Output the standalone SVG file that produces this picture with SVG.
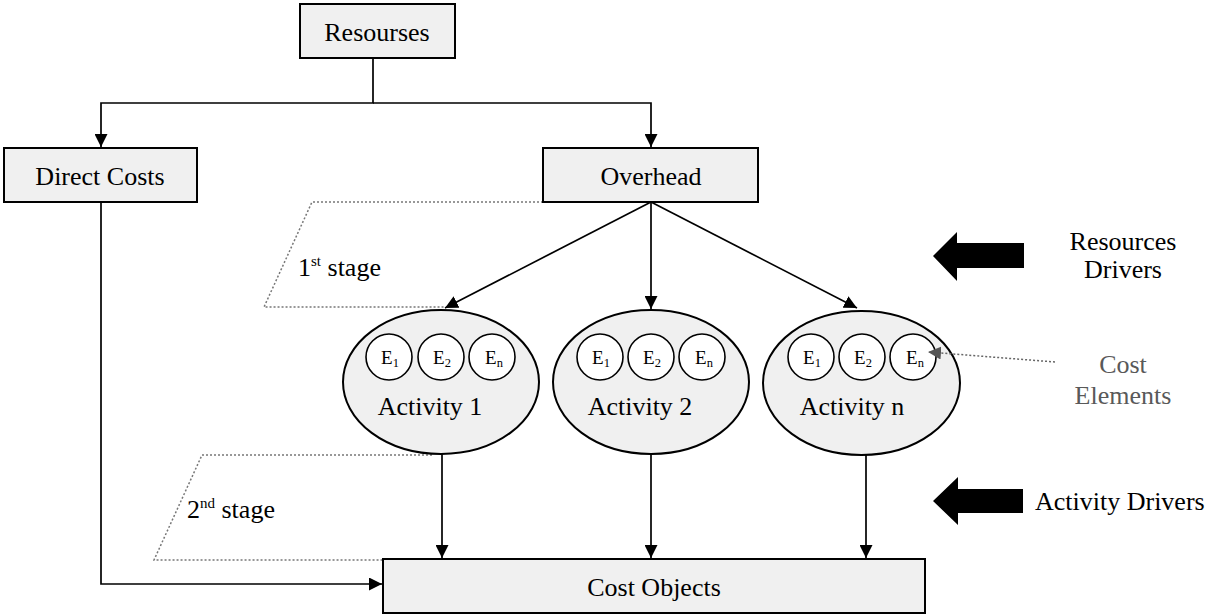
<svg xmlns="http://www.w3.org/2000/svg" width="1213" height="614" viewBox="0 0 1213 614">
<style>
text{font-family:"Liberation Serif","Times New Roman",serif;fill:#000}
.lbl{font-size:26px;text-anchor:middle}
.box{fill:#f0f0f0;stroke:#000;stroke-width:2}
.ell{fill:#f0f0f0;stroke:#000;stroke-width:2}
.cir{fill:#fff;stroke:#000;stroke-width:1.6}
.e{font-size:19px;text-anchor:middle}
.sub{font-size:12.5px}
.con{fill:none;stroke:#000;stroke-width:1.7}
.dot{fill:none;stroke:#777;stroke-width:1.5;stroke-dasharray:2 2}
.gray{fill:#595959}
</style>
<defs>
<marker id="ah" markerUnits="userSpaceOnUse" markerWidth="13" markerHeight="13" refX="13" refY="6.5" orient="auto" viewBox="0 0 13 13">
<path d="M0,0 L13,6.5 L0,13 z" fill="#000"/>
</marker>
<marker id="ahg" markerUnits="userSpaceOnUse" markerWidth="13" markerHeight="13" refX="13" refY="6.5" orient="auto" viewBox="0 0 13 13">
<path d="M0,0 L13,6.5 L0,13 z" fill="#555"/>
</marker>
</defs>

<g id="stages">
<path class="dot" d="M543,202 H312 L264,307 H445"/>
<path class="dot" d="M432,455 H202 L154,560 H383"/>
<text x="298" y="276" font-size="26">1<tspan font-size="15" dy="-10">st</tspan><tspan dy="10"> stage</tspan></text>
<text x="187" y="518" font-size="26">2<tspan font-size="15" dy="-10">nd</tspan><tspan dy="10"> stage</tspan></text>
</g>

<g id="resourses">
<rect class="box" x="300" y="4" width="155" height="54"/>
<text class="lbl" x="377" y="41">Resourses</text>
</g>
<g id="direct-costs">
<rect class="box" x="4" y="148" width="193" height="54"/>
<text class="lbl" x="100" y="185">Direct Costs</text>
</g>
<g id="overhead">
<rect class="box" x="543" y="148" width="215" height="54"/>
<text class="lbl" x="651" y="185">Overhead</text>
</g>

<g id="activity-1">
<ellipse class="ell" cx="441" cy="382" rx="98" ry="72"/>
<circle class="cir" cx="389" cy="357" r="23"/>
<circle class="cir" cx="441" cy="357" r="23"/>
<circle class="cir" cx="492" cy="357" r="23"/>
<text class="e" x="390" y="364">E<tspan class="sub" dy="3">1</tspan></text>
<text class="e" x="442" y="364">E<tspan class="sub" dy="3">2</tspan></text>
<text class="e" x="494" y="364">E<tspan class="sub" dy="3">n</tspan></text>
<text class="lbl" x="430" y="415">Activity 1</text>
</g>
<g id="activity-2">
<ellipse class="ell" cx="651" cy="382" rx="98" ry="72"/>
<circle class="cir" cx="600" cy="357" r="23"/>
<circle class="cir" cx="651" cy="357" r="23"/>
<circle class="cir" cx="702" cy="357" r="23"/>
<text class="e" x="601" y="364">E<tspan class="sub" dy="3">1</tspan></text>
<text class="e" x="652" y="364">E<tspan class="sub" dy="3">2</tspan></text>
<text class="e" x="704" y="364">E<tspan class="sub" dy="3">n</tspan></text>
<text class="lbl" x="640" y="415">Activity 2</text>
</g>
<g id="activity-n">
<ellipse class="ell" cx="861.5" cy="383" rx="98.5" ry="72"/>
<circle class="cir" cx="811" cy="357" r="23"/>
<circle class="cir" cx="862" cy="357" r="23"/>
<circle class="cir" cx="913" cy="357" r="23"/>
<text class="e" x="812" y="364">E<tspan class="sub" dy="3">1</tspan></text>
<text class="e" x="863" y="364">E<tspan class="sub" dy="3">2</tspan></text>
<text class="e" x="915" y="364">E<tspan class="sub" dy="3">n</tspan></text>
<text class="lbl" x="852" y="415">Activity n</text>
</g>

<g id="cost-objects">
<rect class="box" x="383" y="559" width="542" height="54"/>
<text class="lbl" x="654" y="596">Cost Objects</text>
</g>

<g id="resources-drivers">
<polygon points="933,256 957,232 957,243 1024,243 1024,268 957,268 957,281" fill="#000"/>
<text class="lbl" x="1123" y="250">Resources</text>
<text class="lbl" x="1123" y="278">Drivers</text>
</g>
<g id="cost-elements">
<text class="lbl gray" x="1123" y="373">Cost</text>
<text class="lbl gray" x="1123" y="404">Elements</text>
</g>
<g id="activity-drivers">
<polygon points="933,501 958,477 958,489 1023,489 1023,513 958,513 958,525" fill="#000"/>
<text x="1035" y="510" font-size="26">Activity Drivers</text>
</g>

<g id="connectors">
<path class="con" d="M373,58 V103 H101 V147" marker-end="url(#ah)"/>
<path class="con" d="M373,103 H651 V147" marker-end="url(#ah)"/>
<path class="con" d="M101,202 V584 H382" marker-end="url(#ah)"/>
<path class="con" d="M651,202 L445,308" marker-end="url(#ah)"/>
<path class="con" d="M651,202 V309" marker-end="url(#ah)"/>
<path class="con" d="M651,202 L857,308" marker-end="url(#ah)"/>
<path class="con" d="M442,454 V558" marker-end="url(#ah)"/>
<path class="con" d="M651,454 V558" marker-end="url(#ah)"/>
<path class="con" d="M866,455 V558" marker-end="url(#ah)"/>
<path d="M1055,362 L928,352" fill="none" stroke="#666" stroke-width="1.5" stroke-dasharray="2 2" marker-end="url(#ahg)"/>
</g>
</svg>
